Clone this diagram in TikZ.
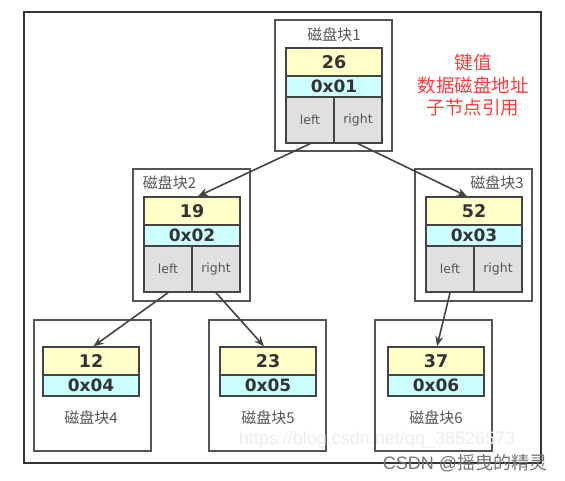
\documentclass[tikz,border=0pt]{standalone}
\usepackage{fontspec}
\setmainfont{DejaVu Sans}
\newfontfamily\cjk{Noto Sans CJK SC}
\newfontfamily\lib{Liberation Sans}
\usetikzlibrary{arrows.meta}
\definecolor{keyyellow}{HTML}{FFFFC8}
\definecolor{addrcyan}{HTML}{CCFFFF}
\definecolor{cellgray}{HTML}{E0E0E0}
\definecolor{linegray}{HTML}{444444}
\definecolor{textgray}{HTML}{555555}
\definecolor{noteRed}{HTML}{FF3B3B}
\newcommand\innertable[5]{% id, xc, ytop, key, addr
  \node[keycell] (k#1) at (#2,#3+14) {#4};
  \node[addrcell] (a#1) at (#2,#3+38.5) {#5};
}
\newcommand\ptrcells[3]{% id, xc, ytop
  \node[ptrcell] (l#1) at (#2-24,#3+72) {left};
  \node[ptrcell] (r#1) at (#2+24,#3+72) {right};
}
\begin{document}
\begin{tikzpicture}[x=1pt,y=-1pt,
  blockbox/.style={draw=textgray, line width=1.5pt, minimum width=117pt, minimum height=131pt, inner sep=0pt},
  cell/.style={draw=linegray, line width=1.5pt, inner sep=0pt, text=black!80},
  keycell/.style={cell, fill=keyyellow, minimum width=96pt, minimum height=28pt, font=\bfseries\fontsize{17.5}{17.5}\selectfont},
  addrcell/.style={cell, fill=addrcyan, minimum width=96pt, minimum height=21pt, font=\bfseries\fontsize{17}{17}\selectfont},
  ptrcell/.style={cell, fill=cellgray, minimum width=48pt, minimum height=46pt, font=\fontsize{12.5}{13}\selectfont, text=textgray},
  blocklabel/.style={font=\cjk\fontsize{15}{15}\selectfont, text=textgray, inner sep=0pt},
  link/.style={draw=linegray, line width=1.6pt, -{Stealth[length=10pt,width=8pt]}}
]
\useasboundingbox (0,0) rectangle (565,481);
\fill[white] (0,0) rectangle (565,481);
\node[draw=black!80, line width=1.5pt, minimum width=517pt, minimum height=451pt, inner sep=0pt] (frame) at (282.5,237.5) {};

% outer blocks
\node[blockbox] (b1) at (333.5,85.5) {};
\node[blockbox, minimum height=132pt] (b2) at (191.5,235) {};
\node[blockbox, minimum height=132pt] (b3) at (473.5,235) {};
\node[blockbox] (b4) at (92.5,385.5) {};
\node[blockbox] (b5) at (267.5,385.5) {};
\node[blockbox] (b6) at (433.5,385.5) {};

% labels
\node[blocklabel] (t1) at (334,35) {磁盘块1};
\node[blocklabel] (t2) at (169.5,183) {磁盘块2};
\node[blocklabel] (t3) at (497,183) {磁盘块3};
\node[blocklabel] (t4) at (91,418) {磁盘块4};
\node[blocklabel] (t5) at (268,418) {磁盘块5};
\node[blocklabel] (t6) at (436,418) {磁盘块6};

% inner tables
\innertable{1}{334}{48}{26}{0x01}
\ptrcells{1}{334}{48}
\innertable{2}{192}{197}{19}{0x02}
\ptrcells{2}{192}{197}
\innertable{3}{474}{197}{52}{0x03}
\ptrcells{3}{474}{197}
\innertable{4}{91}{347}{12}{0x04}
\innertable{5}{268}{347}{23}{0x05}
\innertable{6}{436}{347}{37}{0x06}

% links
\draw[link] (l1.south) -- ([xshift=6pt]k2.north);
\draw[link] (r1.south) -- ([xshift=-7pt]k3.north);
\draw[link] (l2.south) -- ([xshift=2.5pt]k4.north);
\draw[link] (r2.south) -- ([xshift=-4pt]k5.north);
\draw[link] (l3.south) -- ([xshift=1pt]k6.north);

% note
\node[font=\cjk\fontsize{18.5}{22.5}\selectfont, text=noteRed, align=center] (note) at (473,85) {键值\\数据磁盘地址\\子节点引用};

% watermarks
\node[font=\lib\fontsize{18}{18}\selectfont, text=black!7] (url) at (377,440) {https://blog.csdn.net/qq\_38526573};
\node[font=\fontsize{18}{18}\selectfont, text=black!55, inner sep=0pt] (csdn) at (465,463) {{\lib CSDN @}{\cjk 摇曳的精灵}};
\end{tikzpicture}
\end{document}
